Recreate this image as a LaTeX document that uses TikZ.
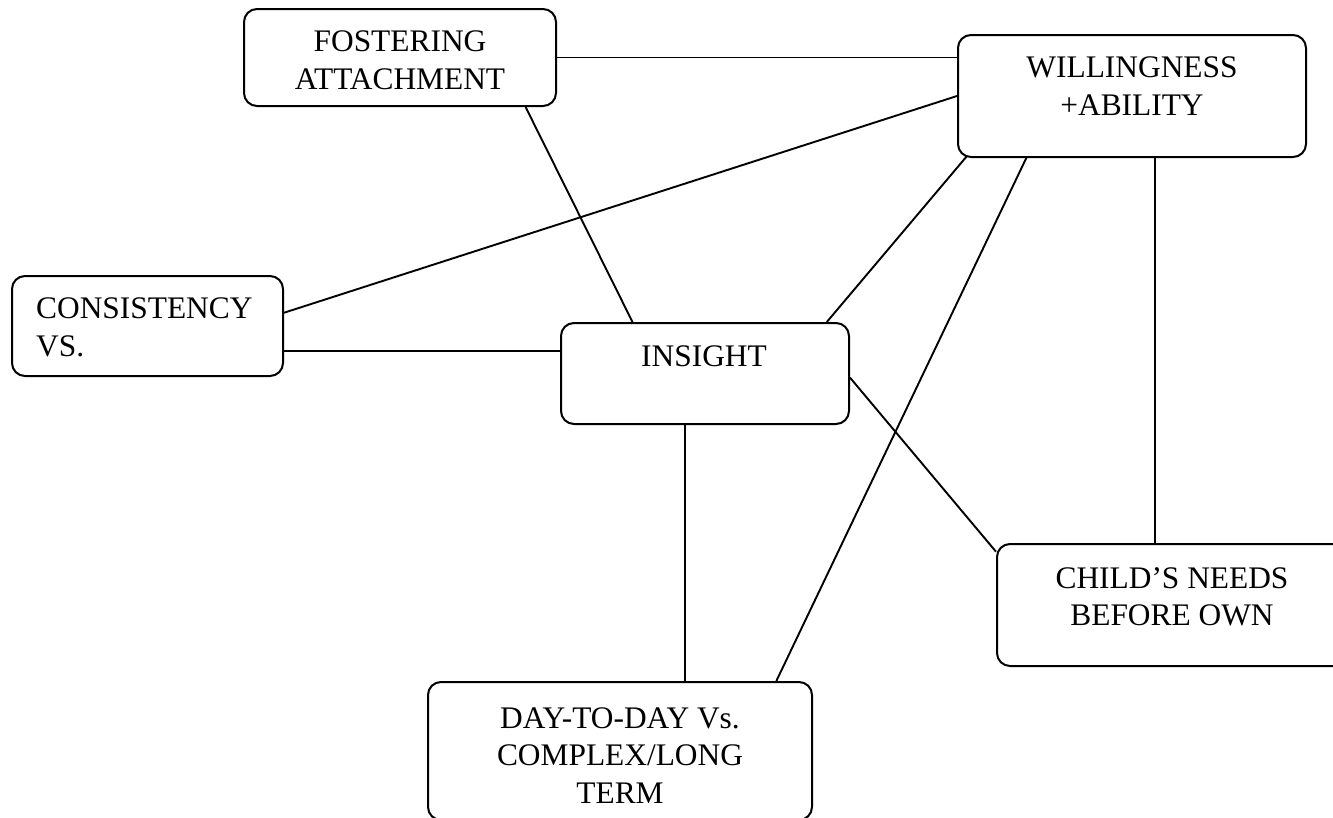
\documentclass[tikz,border=0pt]{standalone}
\usepackage{fontspec}
\setmainfont{Liberation Serif}
\usetikzlibrary{calc}
\begin{document}
\begin{tikzpicture}[x=1pt,y=-1pt,
  box/.style={draw, line width=2pt, rounded corners=13pt, inner sep=0pt, anchor=center},
  txt/.style={inner sep=0pt, align=center, anchor=north, font=\fontsize{31.4}{37.5}\selectfont},
  conn/.style={line width=1.9pt}]
\path[use as bounding box, clip] (0,0) rectangle (1333,817);
\fill[white] (0,0) rectangle (1333,817);
% boxes
\node[box, minimum width=312pt, minimum height=97pt] (fos) at (400,57.5) {};
\node[box, minimum width=348pt, minimum height=122pt] (wil) at (1132,96) {};
\node[box, minimum width=271pt, minimum height=100pt] (con) at (147.5,326) {};
\node[box, minimum width=288pt, minimum height=101pt] (ins) at (705,373.5) {};
\node[box, minimum width=350pt, minimum height=122pt] (chi) at (1172,605) {};
\node[box, minimum width=384pt, minimum height=138pt] (day) at (620,751) {};
% texts
\node[txt] (fost) at (400,31) {FOSTERING\\ATTACHMENT};
\node[txt] (wilt) at (1132,57) {WILLINGNESS\\+ABILITY};
\node[txt, anchor=north west, align=left] (cont) at (36,298) {CONSISTENCY\\VS.};
\node[txt] (inst) at (704,346) {INSIGHT};
\node[txt] (chit) at (1172,567) {CHILD’S NEEDS\\BEFORE OWN};
\node[txt] (dayt) at (620,707) {DAY-TO-DAY Vs.\\COMPLEX/LONG\\TERM};
% connectors
\draw[conn] (fos.east) -- (fos.east -| wil.west);
\draw[conn] ($(fos.south west)!0.9!(fos.south east)$) -- ($(ins.north west)!0.25!(ins.north east)$);
\draw[conn] ($(con.north east)!0.37!(con.south east)$) -- (wil.west);
\coordinate (insL) at ($(ins.north west)!0.28!(ins.south west)$);
\draw[conn] (insL -| con.east) -- (insL);
\draw[conn] ($(ins.north west)!0.92!(ins.north east)$) -- ($(wil.south west)+(10,-2)$);
\draw[conn] ($(ins.north east)!0.54!(ins.south east)$) -- ($(chi.north west)!0.07!(chi.south west)$);
\coordinate (insB) at ($(ins.south west)!0.43!(ins.south east)$);
\draw[conn] (insB) -- (insB |- day.north);
\draw[conn] ($(day.north west)!0.905!(day.north east)$) -- ($(wil.south west)!0.198!(wil.south east)$);
\coordinate (wilB) at ($(wil.south west)!0.565!(wil.south east)$);
\draw[conn] (wilB) -- (wilB |- chi.north);
\end{tikzpicture}
\end{document}
